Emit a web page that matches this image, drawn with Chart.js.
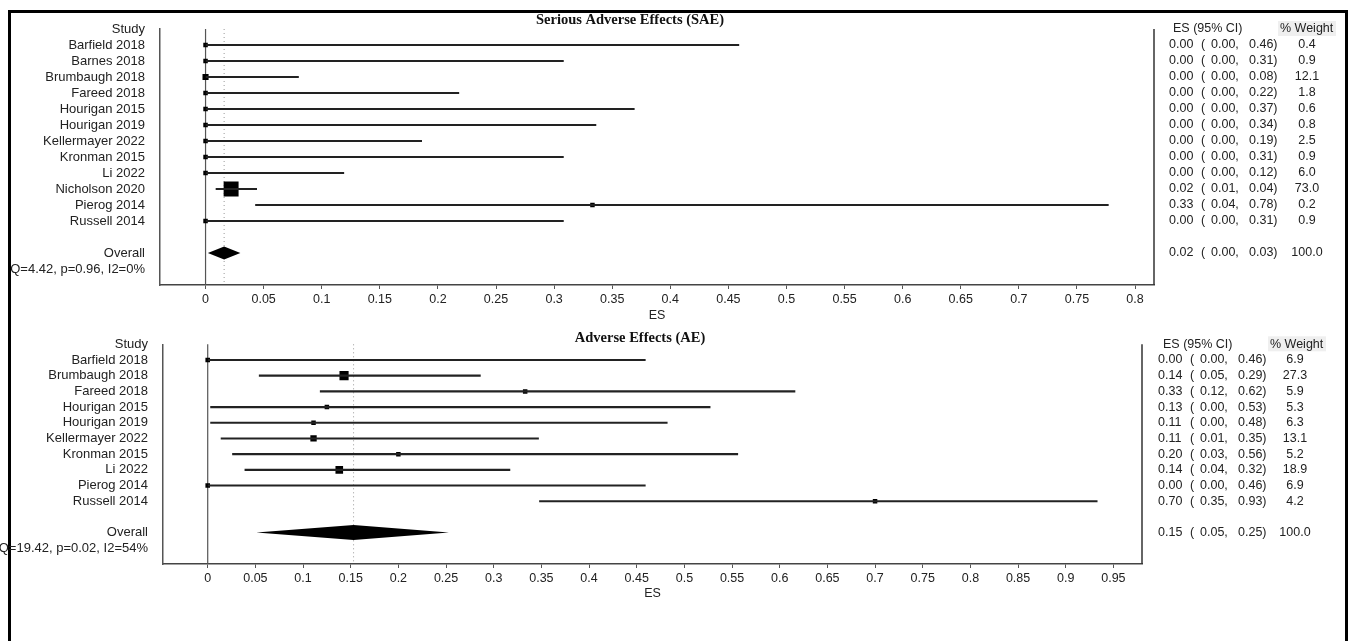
<!DOCTYPE html>
<html>
<head>
<meta charset="utf-8">
<title>Serious Adverse Effects / Adverse Effects - forest plots</title>
<script src="https://cdn.jsdelivr.net/npm/chart.js@4.4.0/dist/chart.umd.min.js"></script>
<style>
  html, body { margin: 0; padding: 0; background: #fff; }
  #page { position: relative; width: 1351px; height: 641px; overflow: hidden; }
  #frame { position: absolute; left: 8px; top: 10px; width: 1340px; height: 700px; border: 3px solid #000; box-sizing: border-box; }
  canvas { position: absolute; left: 0; }
  #sae-chart { top: 0; }
  #ae-chart { top: 320px; }
</style>
</head>
<body>
<div id="page">
  <div id="frame"></div>
  <canvas id="sae-chart" width="1351" height="330"></canvas>
  <canvas id="ae-chart" width="1351" height="321"></canvas>
</div>
<script>
// ---- Serious Adverse Effects (SAE) ----
const saeStudies = ['Barfield 2018', 'Barnes 2018', 'Brumbaugh 2018', 'Fareed 2018', 'Hourigan 2015',
    'Hourigan 2019', 'Kellermayer 2022', 'Kronman 2015', 'Li 2022', 'Nicholson 2020', 'Pierog 2014', 'Russell 2014'];
const saeES     = [0, 0, 0, 0, 0, 0, 0, 0, 0, 0.022, 0.333, 0];
const saeLower  = [0, 0, 0, 0, 0, 0, 0, 0, 0, 0.009, 0.043, 0];
const saeUpper  = [0.459, 0.308, 0.080, 0.218, 0.369, 0.336, 0.186, 0.308, 0.119, 0.044, 0.777, 0.308];
const saeWeight = [0.4, 0.9, 12.1, 1.8, 0.6, 0.8, 2.5, 0.9, 6.0, 73.0, 0.2, 0.9];
const saeOverall = [0.016, 0.002, 0.030];   // ES, lower, upper
const saeHet = 'Q=4.42, p=0.96, I2=0%';
const saeXTicks = [0, 0.05, 0.1, 0.15, 0.2, 0.25, 0.3, 0.35, 0.4, 0.45, 0.5, 0.55, 0.6, 0.65, 0.7, 0.75, 0.8];

// ---- Adverse Effects (AE) ----
const aeStudies = ['Barfield 2018', 'Brumbaugh 2018', 'Fareed 2018', 'Hourigan 2015', 'Hourigan 2019',
    'Kellermayer 2022', 'Kronman 2015', 'Li 2022', 'Pierog 2014', 'Russell 2014'];
const aeES     = [0, 0.143, 0.333, 0.125, 0.111, 0.111, 0.200, 0.138, 0, 0.700];
const aeLower  = [0, 0.054, 0.118, 0.003, 0.003, 0.014, 0.026, 0.039, 0, 0.348];
const aeUpper  = [0.459, 0.286, 0.616, 0.527, 0.482, 0.347, 0.556, 0.317, 0.459, 0.933];
const aeWeight = [6.9, 27.3, 5.9, 5.3, 6.3, 13.1, 5.2, 18.9, 6.9, 4.2];
const aeOverall = [0.153, 0.051, 0.253];
const aeHet = 'Q=19.42, p=0.02, I2=54%';
const aeXTicks = [0, 0.05, 0.1, 0.15, 0.2, 0.25, 0.3, 0.35, 0.4, 0.45, 0.5, 0.55, 0.6, 0.65, 0.7, 0.75, 0.8, 0.85, 0.9, 0.95];

const SANS = '"Liberation Sans", Arial, sans-serif';
Chart.defaults.font.family = SANS;
Chart.defaults.color = '#222';

/**
 * Box size follows the study weight (area ~ weight), with a small minimum
 */
function boxRadius(w) {
    const side = Math.max(4.5, 1.75 * Math.sqrt(w));
    return side / Math.SQRT2;
}

/**
 * Plugin drawing the reference lines, pooled diamond, title and the text columns
 */
function makeForestPlugin(cfg) {
    return {
        id: 'forest',
        beforeDatasetsDraw(chart) {
            const {ctx, chartArea: a, scales: {x}} = chart;
            ctx.save();
            // line of no effect
            const x0 = x.getPixelForValue(0);
            ctx.strokeStyle = '#555';
            ctx.lineWidth = 1.2;
            ctx.beginPath();
            ctx.moveTo(x0, a.top);
            ctx.lineTo(x0, a.bottom);
            ctx.stroke();
            // pooled estimate, dotted
            const xo = x.getPixelForValue(cfg.overall[0]);
            ctx.strokeStyle = '#999';
            ctx.lineWidth = 1;
            ctx.setLineDash([1, 3]);
            ctx.beginPath();
            ctx.moveTo(xo, a.top);
            ctx.lineTo(xo, a.bottom);
            ctx.stroke();
            ctx.restore();
        },
        afterDraw(chart) {
            const {ctx, chartArea: a, scales: {x, y}} = chart;
            ctx.save();

            // right frame of the plot
            ctx.strokeStyle = '#333';
            ctx.lineWidth = 1.5;
            ctx.beginPath();
            ctx.moveTo(a.right, a.top);
            ctx.lineTo(a.right, a.bottom);
            ctx.stroke();

            // pooled diamond
            const rowOverall = y.getLabels().indexOf('Overall');
            const yo = y.getPixelForValue(rowOverall);
            ctx.fillStyle = '#000';
            ctx.beginPath();
            ctx.moveTo(x.getPixelForValue(cfg.overall[1]), yo);
            ctx.lineTo(x.getPixelForValue(cfg.overall[0]), yo - cfg.diamondH);
            ctx.lineTo(x.getPixelForValue(cfg.overall[2]), yo);
            ctx.lineTo(x.getPixelForValue(cfg.overall[0]), yo + cfg.diamondH);
            ctx.closePath();
            ctx.fill();

            // title
            ctx.font = 'bold 14.5px "Liberation Serif", "Times New Roman", serif';
            ctx.fillStyle = '#111';
            ctx.textAlign = 'center';
            ctx.textBaseline = 'middle';
            ctx.fillText(cfg.title, cfg.titleX, cfg.titleY);

            // text columns
            ctx.font = '12.5px ' + SANS;
            const yHead = y.getPixelForValue(0);
            ctx.fillStyle = '#efefef';
            ctx.fillRect(cfg.wHeadX - 2, yHead - 8, 58, 15);
            ctx.fillStyle = '#222';
            ctx.textAlign = 'left';
            ctx.fillText('ES (95% CI)', cfg.headX, yHead);
            ctx.fillText('% Weight', cfg.wHeadX, yHead);

            const rows = cfg.es.map((v, i) => ({row: i + 1, es: v, lo: cfg.lo[i], hi: cfg.hi[i], w: cfg.w[i]}));
            rows.push({row: rowOverall, es: cfg.overall[0], lo: cfg.overall[1], hi: cfg.overall[2], w: 100});
            rows.forEach(r => {
                const yy = y.getPixelForValue(r.row);
                ctx.textAlign = 'left';
                ctx.fillText(r.es.toFixed(2), cfg.esX, yy);
                ctx.fillText('(', cfg.esX + 32, yy);
                ctx.fillText(r.lo.toFixed(2) + ',', cfg.esX + 42, yy);
                ctx.fillText(r.hi.toFixed(2) + ')', cfg.esX + 80, yy);
                ctx.textAlign = 'center';
                ctx.fillText(r.w.toFixed(1), cfg.wX, yy);
            });
            ctx.restore();
        }
    };
}

/**
 * Builds one forest plot
 */
function createForest(canvasId, p) {
    const labels = ['Study', ...p.studies, '', 'Overall', p.het, ''];
    const ciData = p.studies.map((s, i) => ({y: s, x: [p.lo[i], p.hi[i]]}));
    const esData = p.studies.map((s, i) => ({y: s, x: p.es[i]}));

    new Chart(document.getElementById(canvasId), {
        type: 'bar',
        data: {
            labels: labels,
            datasets: [{
                type: 'bar',
                indexAxis: 'y',
                data: ciData,
                backgroundColor: '#222',
                borderWidth: 0,
                barThickness: 1.5
            }, {
                type: 'scatter',
                data: esData,
                pointStyle: 'rect',
                pointRadius: p.w.map(boxRadius),
                pointHoverRadius: p.w.map(boxRadius),
                backgroundColor: '#000',
                borderWidth: 0
            }]
        },
        options: {
            indexAxis: 'y',
            responsive: false,
            animation: false,
            events: [],
            layout: { padding: p.padding },
            plugins: { legend: { display: false }, tooltip: { enabled: false } },
            scales: {
                x: {
                    type: 'linear',
                    position: 'bottom',
                    min: p.xMin,
                    max: p.xMax,
                    afterBuildTicks: axis => { axis.ticks = p.xTicks.map(v => ({value: v})); },
                    afterFit: s => { s.height = p.xAxisH; },
                    ticks: { autoSkip: false, maxRotation: 0, padding: 3, font: { size: 12.5 }, callback: v => String(v) },
                    grid: { display: true, drawOnChartArea: false, drawTicks: true, tickLength: 4, color: '#555' },
                    border: { display: true, color: '#444', width: 1.5 },
                    title: { display: true, text: 'ES', font: { size: 12.5 }, padding: { top: 0, bottom: p.esPad } }
                },
                y: {
                    type: 'category',
                    labels: labels,
                    offset: false,
                    afterFit: s => { s.width = p.yAxisW; },
                    ticks: { autoSkip: false, padding: 7, font: { size: 13 } },
                    grid: { display: false },
                    border: { display: true, color: '#555', width: 1.5 }
                }
            }
        },
        plugins: [makeForestPlugin({
            title: p.title, titleX: p.titleX, titleY: p.titleY,
            es: p.es, lo: p.lo, hi: p.hi, w: p.w, overall: p.overall, diamondH: p.diamondH,
            esX: p.esX, headX: p.headX, wX: p.wX, wHeadX: p.wHeadX
        })]
    });
}

createForest('sae-chart', {
    title: 'Serious Adverse Effects (SAE)', titleX: 630, titleY: 20,
    studies: saeStudies, es: saeES, lo: saeLower, hi: saeUpper, w: saeWeight,
    overall: saeOverall, het: saeHet, xTicks: saeXTicks,
    xMin: -0.0392, xMax: 0.8163,
    padding: { top: 29, left: 0, right: 197, bottom: 0 },
    yAxisW: 160, xAxisH: 45, esPad: 6.5, diamondH: 6.5,
    esX: 1169, headX: 1173, wX: 1307, wHeadX: 1280
});

createForest('ae-chart', {
    title: 'Adverse Effects (AE)', titleX: 640, titleY: 18,
    studies: aeStudies, es: aeES, lo: aeLower, hi: aeUpper, w: aeWeight,
    overall: aeOverall, het: aeHet, xTicks: aeXTicks,
    xMin: -0.0469, xMax: 0.980,
    padding: { top: 24.3, left: 0, right: 209, bottom: 0 },
    yAxisW: 163, xAxisH: 77, esPad: 39.5, diamondH: 7.5,
    esX: 1158, headX: 1163, wX: 1295, wHeadX: 1270
});
</script>
</body>
</html>
